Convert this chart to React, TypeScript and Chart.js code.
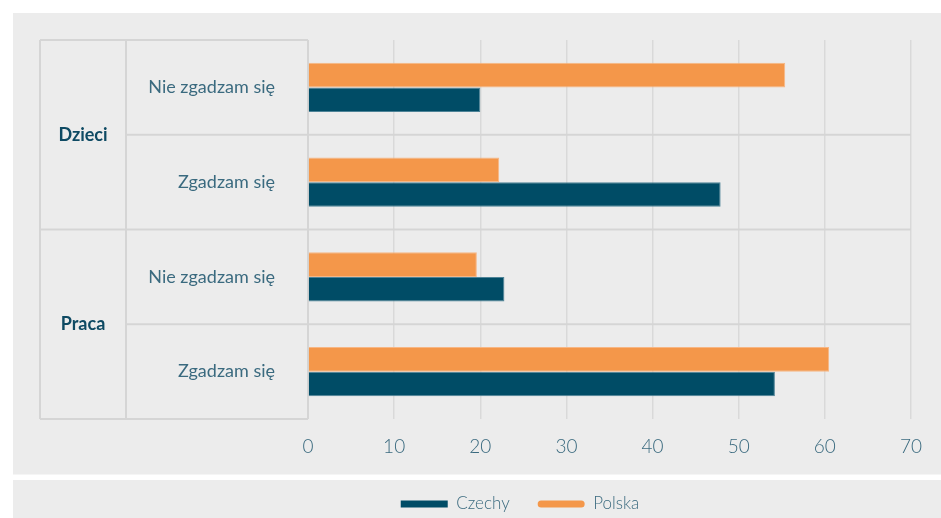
import React, { useEffect, useRef } from "react";
import { Chart, registerables } from "chart.js";

Chart.register(...registerables);

// ---- data ----
const categories = ["Nie zgadzam się", "Zgadzam się", "Nie zgadzam się", "Zgadzam się"];
const groups = ["Dzieci", "Dzieci", "Praca", "Praca"];
const seriesNames = ["Czechy", "Polska"];
const czechy = [20.0, 47.9, 22.8, 54.2];
const polska = [55.4, 22.2, 19.6, 60.5];
const xMin = 0;
const xMax = 70;
const xStep = 10;

// ---- styles ----
const NAVY = "#004c66";
const ORANGE = "#f4974a";
const PANEL = "#ececec";
const GRID = "#d9d9d9";
const LABEL = "#3a6a7f";
const GROUP_LABEL = "#0e4a63";
const FONT = "Lato, 'Open Sans', sans-serif";
const PAD_LEFT = 129;
const PAD_BOTTOM = -4.5;

const backgroundPlugin = {
  id: "panels",
  beforeDraw(chart: any) {
    const { ctx, width, height } = chart;
    ctx.save();
    ctx.fillStyle = "#ffffff";
    ctx.fillRect(0, 0, width, height);
    ctx.fillStyle = PANEL;
    ctx.fillRect(13, 13, width - 13, 461.5);
    ctx.fillRect(13, 480, width - 13, height - 480);
    ctx.restore();
  },
};

const tablePlugin = {
  id: "groupTable",
  beforeDatasetsDraw(chart: any) {
    const { ctx, chartArea } = chart;
    const y = chart.scales.y;
    const outerX = 40;
    const colX = 126;
    const top = chartArea.top;
    const bottom = chartArea.bottom;
    ctx.save();
    ctx.strokeStyle = "#d5d5d5";
    ctx.lineWidth = 2;
    ctx.beginPath();
    ctx.moveTo(outerX, top);
    ctx.lineTo(chartArea.left, top);
    ctx.moveTo(outerX, bottom);
    ctx.lineTo(chartArea.left, bottom);
    ctx.moveTo(outerX, top);
    ctx.lineTo(outerX, bottom);
    ctx.moveTo(colX, top);
    ctx.lineTo(colX, bottom);
    ctx.moveTo(chartArea.left, top);
    ctx.lineTo(chartArea.left, bottom);
    for (let i = 0; i < categories.length - 1; i++) {
      const yy = (y.getPixelForValue(i) + y.getPixelForValue(i + 1)) / 2;
      const startX = groups[i] !== groups[i + 1] ? outerX : colX;
      ctx.moveTo(startX, yy);
      ctx.lineTo(chartArea.right, yy);
    }
    ctx.stroke();

    ctx.fillStyle = GROUP_LABEL;
    ctx.font = `bold 18px ${FONT}`;
    ctx.textAlign = "center";
    ctx.textBaseline = "middle";
    let start = 0;
    for (let i = 1; i <= groups.length; i++) {
      if (i === groups.length || groups[i] !== groups[start]) {
        const yTop =
          start === 0 ? top : (y.getPixelForValue(start - 1) + y.getPixelForValue(start)) / 2;
        const yBot =
          i === groups.length ? bottom : (y.getPixelForValue(i - 1) + y.getPixelForValue(i)) / 2;
        ctx.fillText(groups[start], (outerX + colX) / 2, (yTop + yBot) / 2);
        start = i;
      }
    }
    ctx.restore();
  },
};

export default function App() {
  const canvasRef = useRef<HTMLCanvasElement | null>(null);

  useEffect(() => {
    if (!canvasRef.current) return;
    const chart = new Chart(canvasRef.current, {
      type: "bar",
      data: {
        labels: categories,
        datasets: [
          {
            label: seriesNames[1],
            data: polska,
            backgroundColor: ORANGE,
            borderColor: "#f7b684",
            borderWidth: 1,
            categoryPercentage: 0.52,
            barPercentage: 1,
          },
          {
            label: seriesNames[0],
            data: czechy,
            backgroundColor: NAVY,
            borderColor: "#4d8397",
            borderWidth: 1,
            categoryPercentage: 0.52,
            barPercentage: 1,
          },
        ],
      },
      options: {
        indexAxis: "y",
        animation: false,
        responsive: true,
        maintainAspectRatio: false,
        layout: { padding: { top: 40, left: PAD_LEFT, right: 30, bottom: PAD_BOTTOM } },
        scales: {
          x: {
            min: xMin,
            max: xMax,
            ticks: {
              stepSize: xStep,
              color: LABEL,
              font: { family: FONT, size: 19, weight: "300" },
              padding: 16,
            },
            grid: { color: GRID, lineWidth: 1.5, drawTicks: false },
            border: { display: false },
            afterFit(scale: any) {
              const legendH = scale.chart.legend ? scale.chart.legend.height : 0;
              scale.height = scale.chart.height - PAD_BOTTOM - 419 - legendH;
            },
          },
          y: {
            ticks: {
              color: LABEL,
              font: { family: FONT, size: 18, weight: "400" },
              crossAlign: "near",
              padding: 33,
            },
            grid: { display: false, drawTicks: false },
            border: { display: false },
            afterFit(scale: any) {
              scale.width = 308 - PAD_LEFT;
              scale.paddingTop = 0;
              scale.paddingBottom = 0;
            },
          },
        },
        plugins: {
          legend: {
            position: "bottom",
            reverse: true,
            labels: {
              color: LABEL,
              font: { family: FONT, size: 17, weight: "300" },
              boxWidth: 47,
              boxHeight: 7,
              padding: 28,
              useBorderRadius: true,
              generateLabels(chart: any) {
                const items = Chart.defaults.plugins.legend.labels.generateLabels(chart);
                return items.map((it: any) => ({
                  ...it,
                  lineWidth: 0,
                  strokeStyle: "rgba(0,0,0,0)",
                  borderRadius: it.text === seriesNames[1] ? 3.5 : 0,
                }));
              },
            },
          },
          tooltip: { enabled: false },
        },
      },
      plugins: [backgroundPlugin, tablePlugin],
    });
    return () => chart.destroy();
  }, []);

  return (
    <div style={{ position: "fixed", left: 0, top: 0, width: 941, height: 518 }}>
      <canvas ref={canvasRef} />
    </div>
  );
}
